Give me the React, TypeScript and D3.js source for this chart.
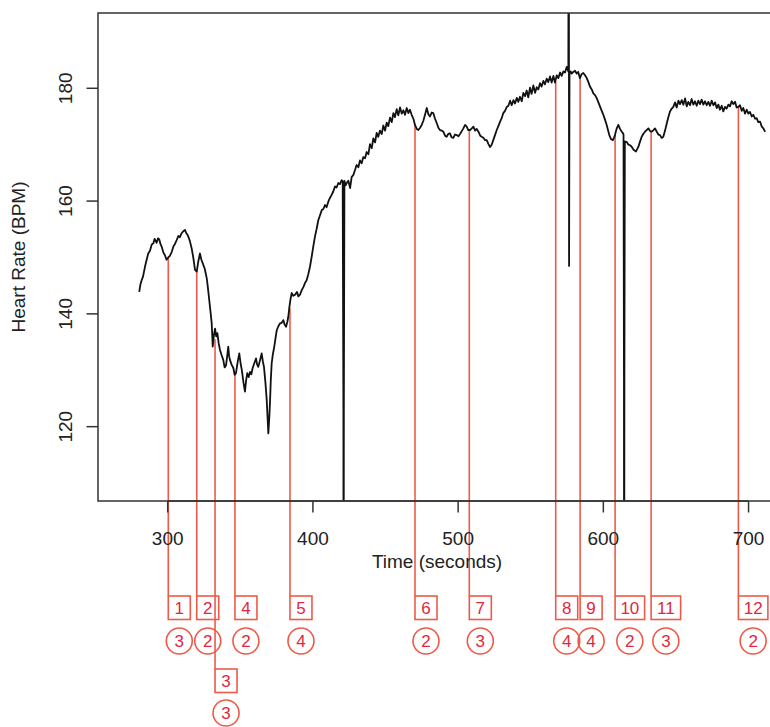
import React from "react";
import * as d3 from "d3";

// Heart-rate trace: [time (s), BPM]
const heartRate: [number, number][] = [
  [280.4, 143.9], [281.2, 145.2], [282.1, 146.0], [283.0, 146.6], [284.4, 148.4], [285.5, 149.6],
  [286.6, 150.7], [287.8, 151.2], [289.0, 152.3], [290.1, 152.5], [291.0, 153.3], [292.4, 152.6],
  [293.3, 153.4], [294.2, 153.2], [295.0, 152.4], [295.9, 151.9], [297.0, 150.9], [298.1, 150.4],
  [299.2, 149.6], [300.4, 150.0], [301.5, 150.3], [302.8, 151.0], [304.0, 152.0], [305.0, 152.4],
  [306.2, 153.1], [307.3, 153.8], [308.4, 153.6], [309.6, 154.3], [310.6, 154.6], [311.9, 154.9],
  [312.8, 154.3], [313.5, 154.1], [314.2, 153.7], [315.3, 152.9], [316.5, 151.6], [317.6, 150.0],
  [318.8, 147.8], [320.0, 147.5], [321.0, 149.2], [322.2, 150.7], [323.2, 149.6], [324.1, 149.0],
  [325.5, 148.0], [326.9, 146.3], [327.7, 144.6], [328.6, 142.5], [329.5, 140.3], [330.3, 138.3],
  [330.8, 135.5], [331.0, 134.2], [331.8, 136.2], [332.6, 137.4], [333.4, 136.0], [334.2, 136.6],
  [335.1, 134.8], [336.0, 133.6], [337.1, 132.7], [338.3, 131.8], [339.2, 130.5], [340.2, 130.9],
  [341.0, 132.6], [341.7, 134.2], [342.3, 132.5], [342.9, 131.8], [344.0, 131.0], [345.2, 130.4],
  [346.1, 129.2], [347.0, 129.5], [348.2, 131.5], [349.3, 133.0], [350.2, 131.2], [351.0, 130.1],
  [352.2, 127.8], [353.2, 126.2], [354.0, 128.2], [354.8, 129.5], [355.8, 128.8], [356.7, 129.7],
  [357.6, 129.3], [358.5, 130.4], [359.7, 131.3], [360.8, 132.1], [361.6, 131.0], [362.4, 130.6],
  [363.6, 131.8], [364.7, 133.0], [365.5, 131.6], [366.3, 130.6], [367.3, 127.8], [368.2, 124.7],
  [368.8, 121.5], [369.3, 118.8], [370.0, 121.8], [370.5, 124.7], [371.0, 128.3], [371.6, 131.2],
  [372.4, 132.8], [373.2, 133.9], [374.2, 135.6], [375.1, 137.1], [376.2, 137.8], [377.3, 138.3],
  [378.5, 138.4], [379.6, 138.9], [380.5, 138.1], [381.5, 137.7], [382.4, 138.6], [383.0, 139.4],
  [383.7, 141.0], [384.5, 142.5], [385.4, 143.7], [386.5, 143.2], [387.7, 143.4], [389.0, 143.9],
  [390.0, 143.1], [391.1, 143.4], [392.3, 144.2], [393.5, 144.8], [394.6, 145.5], [395.6, 145.9],
  [396.8, 147.0], [398.0, 148.4], [399.2, 150.2], [400.3, 152.0], [401.4, 153.7], [402.5, 155.0],
  [403.7, 156.6], [404.9, 157.5], [406.1, 158.4], [407.2, 158.6], [408.3, 159.3], [409.4, 158.9],
  [410.6, 159.9], [411.8, 160.6], [412.9, 161.1], [414.0, 161.7], [415.2, 162.6], [416.3, 162.4],
  [417.5, 163.2], [418.6, 163.0], [419.8, 163.7], [420.5, 163.5], [421.0, 122.4], [421.1, 60.0],
  [421.3, 122.5], [421.7, 163.6], [422.5, 162.8], [423.3, 163.2], [424.4, 163.6], [425.6, 162.3],
  [426.7, 164.3], [427.8, 164.6], [429.0, 165.5], [430.1, 166.4], [431.3, 166.0], [432.4, 167.2],
  [433.6, 166.7], [434.7, 167.8], [435.9, 167.6], [437.0, 168.7], [438.2, 168.3], [439.3, 170.1],
  [440.5, 169.4], [441.6, 171.1], [442.8, 170.4], [443.9, 172.1], [445.0, 171.4], [446.2, 172.5],
  [447.4, 171.9], [448.5, 173.4], [449.7, 172.5], [450.8, 173.9], [451.9, 173.3], [453.1, 174.8],
  [454.3, 174.0], [455.4, 175.6], [456.5, 174.9], [457.7, 176.3], [458.8, 175.2], [460.0, 176.6],
  [461.2, 175.5], [462.3, 176.1], [463.4, 175.3], [464.6, 176.5], [465.7, 175.6], [466.8, 176.2],
  [468.0, 175.3], [469.2, 174.6], [470.3, 173.5], [471.5, 172.8], [472.6, 172.6], [473.8, 173.0],
  [474.9, 173.5], [476.0, 174.2], [477.2, 175.3], [478.4, 176.5], [479.5, 175.4], [480.6, 175.0],
  [481.8, 175.7], [482.9, 175.6], [484.1, 174.6], [485.3, 173.8], [486.4, 173.0], [487.5, 172.6],
  [488.7, 172.5], [489.8, 172.3], [491.0, 171.6], [492.1, 171.4], [493.2, 171.9], [494.4, 172.0],
  [495.5, 171.3], [496.7, 171.2], [497.8, 171.8], [499.0, 171.7], [500.2, 171.5], [501.3, 171.9],
  [502.5, 172.4], [503.6, 172.9], [504.8, 173.5], [505.9, 173.2], [507.0, 172.6], [508.2, 172.6],
  [509.4, 172.9], [510.5, 173.2], [511.7, 172.5], [512.8, 172.8], [514.0, 172.3], [515.2, 171.6],
  [516.3, 171.4], [517.5, 171.2], [518.6, 170.8], [519.7, 170.8], [520.9, 170.1], [522.0, 169.6],
  [523.1, 170.0], [524.2, 170.8], [525.4, 171.7], [526.6, 172.6], [527.7, 173.3], [528.9, 174.1],
  [530.0, 174.7], [531.1, 175.6], [532.3, 176.0], [533.5, 176.7], [534.6, 176.9], [535.8, 177.8],
  [536.9, 177.0], [538.1, 177.9], [539.2, 177.3], [540.4, 178.3], [541.5, 177.6], [542.6, 178.5],
  [543.8, 177.7], [544.9, 179.2], [546.1, 178.6], [547.2, 179.6], [548.3, 178.4], [549.5, 180.1],
  [550.6, 179.0], [551.8, 180.5], [553.0, 179.2], [554.1, 180.2], [555.2, 179.8], [556.4, 180.9],
  [557.5, 180.3], [558.7, 181.3], [559.8, 180.7], [561.0, 181.7], [562.1, 181.1], [563.3, 182.1],
  [564.4, 181.0], [565.6, 182.2], [566.7, 181.0], [567.9, 182.3], [569.0, 181.8], [570.2, 182.8],
  [571.3, 182.2], [572.5, 183.0], [573.6, 182.8], [574.8, 183.8], [575.9, 183.0], [576.2, 240.0],
  [576.4, 148.5], [576.7, 182.6], [577.5, 183.0], [578.2, 182.6], [579.3, 182.9], [580.5, 183.1],
  [581.6, 182.6], [582.7, 182.9], [583.9, 181.8], [585.0, 182.5], [586.2, 182.7], [587.4, 182.3],
  [588.6, 181.8], [589.7, 181.1], [590.8, 180.3], [592.0, 179.8], [593.1, 179.1], [594.3, 178.8],
  [595.5, 178.2], [596.6, 177.5], [597.8, 176.7], [598.9, 176.0], [600.0, 175.3], [601.2, 174.4],
  [602.3, 173.5], [603.2, 172.6], [604.1, 171.7], [605.3, 171.0], [606.5, 170.8], [607.3, 171.2],
  [608.0, 171.7], [609.1, 172.8], [610.3, 173.5], [611.5, 172.8], [612.7, 172.3], [613.6, 172.0],
  [613.9, 171.8], [614.2, 128.5], [614.3, 60.0], [614.5, 128.5], [614.8, 170.6], [615.3, 170.5],
  [616.1, 170.5], [617.3, 170.0], [618.4, 169.9], [619.6, 169.6], [620.8, 169.1], [622.0, 168.9],
  [622.5, 168.8], [623.3, 169.2], [624.1, 169.6], [625.2, 170.5], [626.4, 171.4], [627.5, 171.9],
  [628.7, 172.3], [629.8, 172.6], [631.0, 172.9], [632.2, 172.4], [633.3, 172.3], [634.5, 172.6],
  [635.6, 172.9], [636.8, 172.3], [637.9, 171.8], [639.0, 171.7], [640.2, 171.2], [641.3, 171.4],
  [642.5, 172.5], [643.7, 173.8], [644.8, 174.9], [645.9, 175.9], [647.1, 176.4], [648.2, 176.7],
  [649.4, 177.5], [650.5, 176.6], [651.7, 177.8], [652.8, 177.2], [654.0, 177.9], [655.1, 177.1],
  [656.3, 178.2], [657.4, 176.8], [658.5, 177.6], [659.7, 177.0], [660.8, 178.1], [662.0, 177.1],
  [663.1, 177.7], [664.3, 176.9], [665.4, 177.8], [666.6, 177.2], [667.7, 178.0], [668.9, 177.1],
  [670.0, 177.7], [671.2, 177.0], [672.3, 177.6], [673.5, 176.9], [674.6, 177.8], [675.8, 177.0],
  [676.9, 177.5], [678.1, 176.5], [679.2, 177.1], [680.3, 176.2], [681.5, 176.9], [682.6, 175.9],
  [683.8, 176.7], [684.9, 176.4], [686.1, 177.1], [687.2, 176.8], [688.4, 177.7], [689.5, 177.2],
  [690.7, 177.6], [691.8, 176.6], [693.0, 176.7], [694.1, 177.0], [695.3, 176.0], [696.4, 176.5],
  [697.6, 175.5], [698.7, 176.2], [699.9, 175.5], [701.0, 175.8], [702.2, 175.0], [703.3, 175.3],
  [704.5, 174.6], [705.6, 174.7], [706.7, 174.0], [707.9, 174.1], [709.1, 173.2], [710.2, 172.9],
  [711.4, 172.3],
];

// Event markers
const markerIds = [1, 2, 3, 4, 5, 6, 7, 8, 9, 10, 11, 12];
const markerTimes = [300.4, 320.0, 332.6, 346.3, 384.2, 470.3, 507.7, 567.2, 584.0, 608.1, 632.9, 693.0];
const markerBpm = [150.0, 147.5, 135.5, 129.4, 141.0, 173.5, 172.6, 181.2, 181.8, 171.7, 172.3, 176.7];
const markerScores = [3, 2, 3, 2, 4, 2, 3, 4, 4, 2, 3, 2];
const markerRow = [0, 0, 1, 0, 0, 0, 0, 0, 0, 0, 0, 0];

const xTicks = [300, 400, 500, 600, 700];
const yTicks = [120, 140, 160, 180];

const W = 770;
const H = 727;
const FONT = "'Liberation Sans', Arial, sans-serif";
const RED = "#ef5a48";
const RED_TEXT = "#e3263f";
const AXIS = "#333";

export default function App() {
  const left = 98, right = 776, top = 13, bottom = 501;
  const x = d3.scaleLinear().domain([252, 718.9]).range([left, right]);
  const y = d3.scaleLinear().domain([106.82, 193.35]).range([bottom, top]);
  const line = d3.line<[number, number]>().x((d) => x(d[0])).y((d) => y(d[1]));

  const rowBoxTop = [596, 669];
  const boxH = 23.5;
  const rowCircleY = [641, 713];

  return (
    <svg
      width={W}
      height={H}
      style={{ position: "absolute", left: 0, top: 0, background: "#fff" }}
      fontFamily={FONT}
    >
      <defs>
        <clipPath id="plotClip">
          <rect x={left} y={top} width={right - left} height={bottom - top} />
        </clipPath>
      </defs>
      <rect x={0} y={0} width={W} height={H} fill="#fff" />

      {/* event markers */}
      {markerIds.map((id, i) => {
        const mx = x(markerTimes[i]);
        const row = markerRow[i];
        const bt = rowBoxTop[row];
        const bw = String(id).length > 1 ? 29.5 : 22;
        const cx = mx + bw / 2;
        return (
          <g key={id}>
            <line x1={mx} x2={mx} y1={y(markerBpm[i])} y2={bt} stroke={RED} strokeWidth={1.6} />
            <rect x={mx} y={bt} width={bw} height={boxH} fill="none" stroke={RED} strokeWidth={1.6} />
            <text x={cx} y={bt + boxH / 2 + 6.2} textAnchor="middle" fontSize={17} fill={RED_TEXT}>
              {id}
            </text>
            <circle cx={cx} cy={rowCircleY[row]} r={13} fill="none" stroke={RED} strokeWidth={1.6} />
            <text x={cx} y={rowCircleY[row] + 6.2} textAnchor="middle" fontSize={17} fill={RED_TEXT}>
              {markerScores[i]}
            </text>
          </g>
        );
      })}

      {/* data line */}
      <g clipPath="url(#plotClip)">
        <path d={line(heartRate) || ""} fill="none" stroke="#111" strokeWidth={1.8} strokeLinejoin="round" />
      </g>

      {/* box */}
      <rect x={left} y={top} width={right - left} height={bottom - top} fill="none" stroke={AXIS} strokeWidth={1.5} />

      {/* x axis */}
      <line x1={x(xTicks[0])} x2={x(xTicks[xTicks.length - 1])} y1={bottom} y2={bottom} stroke={AXIS} strokeWidth={1.5} />
      {xTicks.map((t) => (
        <g key={t}>
          <line x1={x(t)} x2={x(t)} y1={bottom} y2={bottom + 11.5} stroke={AXIS} strokeWidth={1.5} />
          <text x={x(t)} y={545} textAnchor="middle" fontSize={19} fill="#222">
            {t}
          </text>
        </g>
      ))}
      <text x={437} y={567.5} textAnchor="middle" fontSize={19} fill="#222">
        Time (seconds)
      </text>

      {/* y axis */}
      {yTicks.map((t) => (
        <g key={t}>
          <line x1={left - 11.5} x2={left} y1={y(t)} y2={y(t)} stroke={AXIS} strokeWidth={1.5} />
          <text
            transform={`translate(72,${y(t)}) rotate(-90)`}
            textAnchor="middle"
            fontSize={19}
            fill="#222"
          >
            {t}
          </text>
        </g>
      ))}
      <text transform={`translate(25,${(top + bottom) / 2}) rotate(-90)`} textAnchor="middle" fontSize={19} fill="#222">
        Heart Rate (BPM)
      </text>
    </svg>
  );
}
